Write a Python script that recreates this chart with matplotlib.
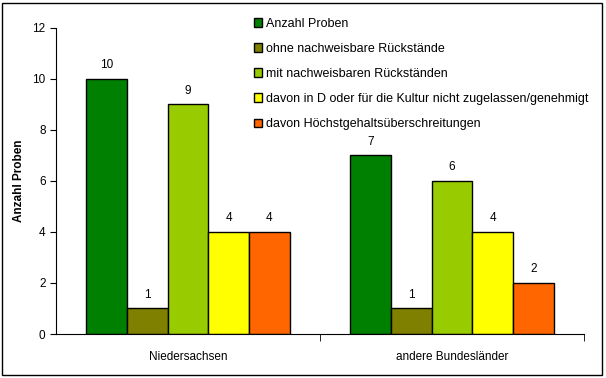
import matplotlib.pyplot as plt
import numpy as np

plt.rcParams['font.family'] = ['Liberation Sans', 'DejaVu Sans']

categories = ['Niedersachsen', 'andere Bundesländer']
series = ['Anzahl Proben',
          'ohne nachweisbare Rückstände',
          'mit nachweisbaren Rückständen',
          'davon in D oder für die Kultur nicht zugelassen/genehmigt',
          'davon Höchstgehaltsüberschreitungen']
values = [[10, 7],
          [1, 1],
          [9, 6],
          [4, 4],
          [4, 2]]
colors = ['#008000', '#808000', '#99CC00', '#FFFF00', '#FF6600']

fig = plt.figure(figsize=(6.06, 3.78), dpi=100)
ax = fig.add_axes([0.0924, 0.1164, 0.8713, 0.8096])

# figure frame
fig.patches.append(plt.Rectangle((0.004, 0.008), 0.99, 0.985, transform=fig.transFigure,
                                 fill=False, edgecolor='black', linewidth=1))

x = np.arange(len(categories))
w = 0.154
for i, (name, vals, c) in enumerate(zip(series, values, colors)):
    pos = x + (i - 2) * w
    ax.bar(pos, vals, width=w, color=c, edgecolor='black', linewidth=1, label=name)
    for p, v in zip(pos, vals):
        ax.text(p, v + 0.3, str(v), ha='center', va='bottom', fontsize=8.5)

ax.set_xlim(-0.5, 1.5)
ax.set_ylim(0, 12)
ax.set_yticks(np.arange(0, 13, 2))
ax.set_xticks(x)
ax.set_xticklabels(categories, fontsize=8.5)
ax.set_xticks([0.5, 1.5], minor=True)
ax.tick_params(axis='x', which='major', length=0, pad=12)
ax.tick_params(axis='x', which='minor', length=5, direction='out')
ax.tick_params(axis='y', length=4, direction='out', labelsize=8.5)
ax.spines['top'].set_visible(False)
ax.spines['right'].set_visible(False)
ax.set_ylabel('Anzahl Proben', fontsize=8.5, fontweight='bold', labelpad=5)

ax.legend(loc='upper left', bbox_to_anchor=(0.353, 1.07), frameon=False, fontsize=9,
          handlelength=0.7, handleheight=0.7, handletextpad=0.3, labelspacing=1.05)

fig.savefig('out.png', dpi=100)
